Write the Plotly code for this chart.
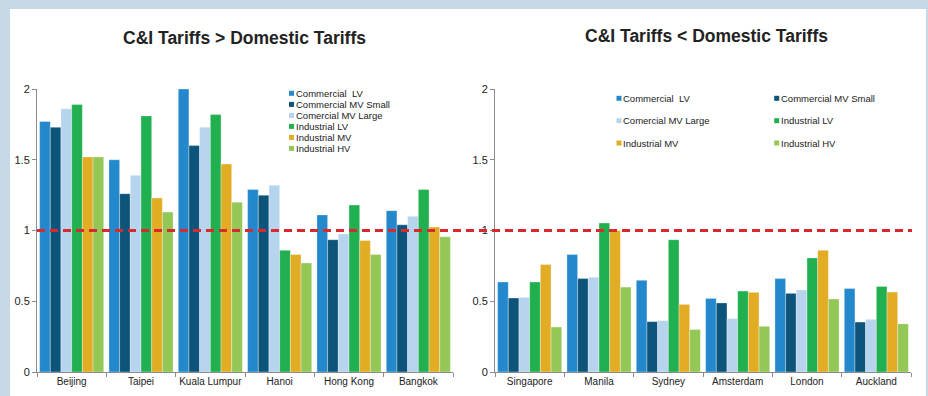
import plotly.graph_objects as go

# ---------------- data ----------------
series_names = ["Commercial  LV", "Commercial MV Small", "Comercial MV Large",
                "Industrial LV", "Industrial MV", "Industrial HV"]
series_colors = ["#2389cc", "#0c5479", "#b6d4ee", "#20b04f", "#e3ac25", "#93c756"]

left_cities = ["Beijing", "Taipei", "Kuala Lumpur", "Hanoi", "Hong Kong", "Bangkok"]
right_cities = ["Singapore", "Manila", "Sydney", "Amsterdam", "London", "Auckland"]

left_commercial_lv = [1.77, 1.50, 2.00, 1.29, 1.11, 1.14]
left_commercial_mv_small = [1.73, 1.26, 1.60, 1.25, 0.935, 1.04]
left_comercial_mv_large = [1.86, 1.39, 1.73, 1.32, 0.975, 1.10]
left_industrial_lv = [1.89, 1.81, 1.82, 0.86, 1.18, 1.29]
left_industrial_mv = [1.52, 1.23, 1.47, 0.83, 0.93, 1.025]
left_industrial_hv = [1.52, 1.13, 1.20, 0.77, 0.83, 0.955]

right_commercial_lv = [0.636, 0.83, 0.648, 0.52, 0.66, 0.59]
right_commercial_mv_small = [0.523, 0.66, 0.356, 0.488, 0.556, 0.353]
right_comercial_mv_large = [0.528, 0.67, 0.363, 0.377, 0.58, 0.372]
right_industrial_lv = [0.636, 1.053, 0.935, 0.572, 0.806, 0.605]
right_industrial_mv = [0.76, 1.00, 0.478, 0.563, 0.86, 0.565]
right_industrial_hv = [0.318, 0.60, 0.30, 0.323, 0.516, 0.34]

y_ticks = [0, 0.5, 1, 1.5, 2]
y_tick_labels = ["0", "0.5", "1", "1.5", "2"]
reference_level = 1

titles = ["C&I Tariffs > Domestic Tariffs", "C&I Tariffs < Domestic Tariffs"]

left_values = [left_commercial_lv, left_commercial_mv_small, left_comercial_mv_large,
               left_industrial_lv, left_industrial_mv, left_industrial_hv]
right_values = [right_commercial_lv, right_commercial_mv_small, right_comercial_mv_large,
                right_industrial_lv, right_industrial_mv, right_industrial_hv]

# ---------------- layout geometry ----------------
W, H = 928, 396
ML, MR, MT, MB = 37, 17, 89, 24
PW = W - ML - MR
PH = H - MT - MB


def px(x):
    return (x - ML) / PW


def py(y):
    return (H - MB - y) / PH


FONT = "Liberation Sans, Arial, Helvetica, sans-serif"
TXT = "#222222"
AXIS = "#8c8c8c"

fig = go.Figure()

for i, name in enumerate(series_names):
    fig.add_trace(go.Bar(
        x=left_cities, y=left_values[i], name=name, marker_color=series_colors[i],
        marker_line=dict(color="rgba(255,255,255,0.55)", width=0.6),
        xaxis="x", yaxis="y", showlegend=False))
    fig.add_trace(go.Bar(
        x=right_cities, y=right_values[i], name=name, marker_color=series_colors[i],
        marker_line=dict(color="rgba(255,255,255,0.55)", width=0.6),
        xaxis="x2", yaxis="y2", showlegend=False))

xcommon = dict(showline=True, linecolor=AXIS, linewidth=1, ticks="outside",
               tickson="boundaries", ticklen=4, tickcolor=AXIS, showgrid=False,
               tickangle=0, automargin=False,
               tickfont=dict(family=FONT, size=10, color=TXT), fixedrange=True)
ycommon = dict(range=[0, 2], tickvals=y_ticks, ticktext=y_tick_labels,
               showline=True, linecolor=AXIS, linewidth=1, ticks="outside",
               ticklen=4, tickcolor=AXIS, showgrid=False, zeroline=False,
               automargin=False,
               tickfont=dict(family=FONT, size=11, color=TXT), fixedrange=True)

shapes = []
# white panel on the light-blue background
shapes.append(dict(type="rect", xref="paper", yref="paper",
                   x0=px(10), x1=px(926), y0=py(400), y1=py(9),
                   fillcolor="white", line=dict(width=0), layer="below"))
# reference dashed line at 1
shapes.append(dict(type="line", xref="paper", yref="y",
                   x0=px(37), x1=px(912), y0=reference_level, y1=reference_level,
                   line=dict(color="#d9282e", width=3, dash="8px,5px"), layer="above"))

annotations = []
# titles
annotations.append(dict(text="<b>%s</b>" % titles[0], xref="paper", yref="paper",
                        x=px(244), y=py(38), showarrow=False, xanchor="center",
                        yanchor="middle", font=dict(family=FONT, size=17.5, color=TXT)))
annotations.append(dict(text="<b>%s</b>" % titles[1], xref="paper", yref="paper",
                        x=px(706), y=py(36), showarrow=False, xanchor="center",
                        yanchor="middle", font=dict(family=FONT, size=17.5, color=TXT)))


def legend_item(name, color, cx, cy, text_x, size):
    shapes.append(dict(type="rect", xref="paper", yref="paper",
                       x0=px(cx - 2.5), x1=px(cx + 2.5), y0=py(cy + 2.5), y1=py(cy - 2.5),
                       fillcolor=color, line=dict(width=0), layer="above"))
    annotations.append(dict(text=name.replace("  ", "\u00a0 "), xref="paper", yref="paper",
                            x=px(text_x), y=py(cy), showarrow=False, xanchor="left",
                            yanchor="middle", borderpad=0,
                            font=dict(family=FONT, size=size, color=TXT)))


# left legend (single column)
left_rows = [93.3, 104.4, 115.4, 126.4, 137.4, 148.4]
for i, name in enumerate(series_names):
    legend_item(name, series_colors[i], 291.5, left_rows[i], 294.5, 9.5)

# right legend (two columns, three rows)
right_rows = [98.3, 120.7, 143.0]
right_cols = [(619.0, 622.0), (776.7, 779.7)]
for i, name in enumerate(series_names):
    r, c = divmod(i, 2)
    legend_item(name, series_colors[i], right_cols[c][0], right_rows[r], right_cols[c][1], 9.5)

fig.update_layout(
    width=W, height=H, autosize=False,
    margin=dict(l=ML, r=MR, t=MT, b=MB, pad=0),
    paper_bgcolor="#c7d8e6", plot_bgcolor="rgba(0,0,0,0)",
    barmode="group", bargap=0.075, bargroupgap=0,
    showlegend=False,
    xaxis=dict(domain=[0, px(453)], anchor="y", **xcommon),
    yaxis=dict(domain=[0, 1], anchor="x", **ycommon),
    xaxis2=dict(domain=[px(495), 1], anchor="y2", **xcommon),
    yaxis2=dict(domain=[0, 1], anchor="x2", **ycommon),
    shapes=shapes, annotations=annotations,
    font=dict(family=FONT, color=TXT),
)

fig.write_html("out.html", config={"displayModeBar": False})
